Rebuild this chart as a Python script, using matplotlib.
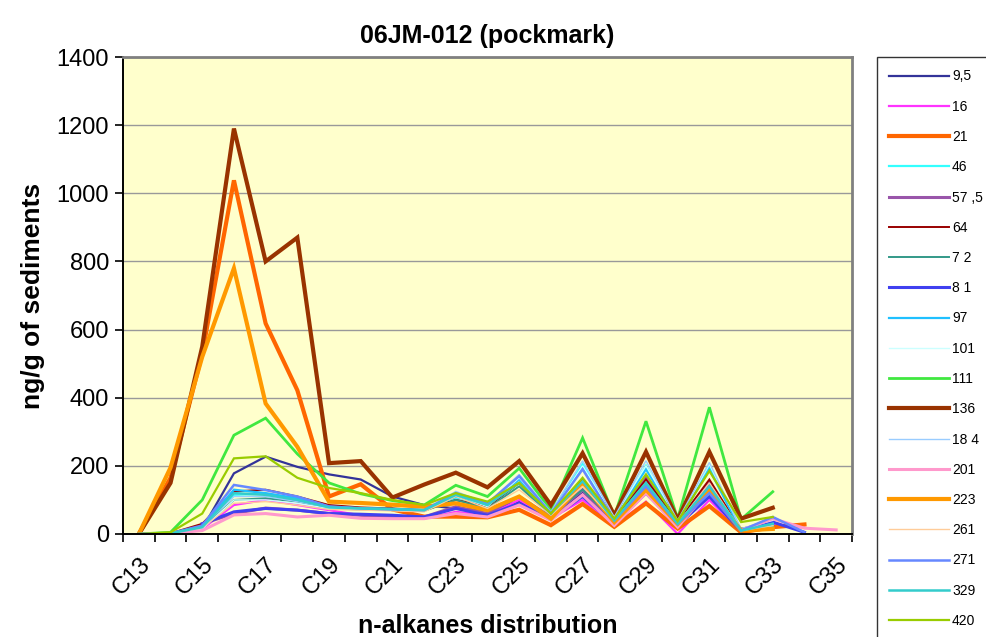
import numpy as np
import matplotlib
matplotlib.use("Agg")
import matplotlib.pyplot as plt
from matplotlib.ticker import FixedLocator, NullFormatter

plt.rcParams["font.family"] = ["Liberation Sans", "DejaVu Sans"]

nan = np.nan
categories = ["C%d" % n for n in range(13, 36)]

# series values, C13 .. C35 (ng/g)
s_9_5 = [nan, nan, 15, 178, 227, 197, 175, 160, 110, 85, 75, 70, 95, 55, 120, 40, 130, 30, 150, 15, 35, nan, nan]
s_16 = [0, 2, 15, 85, 100, 85, 70, 55, 45, 45, 65, 55, 100, 45, 100, 25, 95, 0, 100, 5, 30, 18, nan]
s_21 = [0, 165, 530, 1038, 618, 422, 110, 146, 72, 51, 51, 49, 71, 26, 88, 21, 90, 16, 82, 5, 20, 28, nan]
s_46 = [0, 2, 20, 115, 118, 100, 78, 74, 72, 68, 105, 80, 150, 60, 205, 45, 200, 30, 195, 10, 25, nan, nan]
s_57_5 = [nan, nan, 30, 60, 76, 70, 60, 55, 50, 50, 80, 60, 110, 50, 130, 35, 165, 25, 150, 10, 30, nan, nan]
s_64 = [0, 2, 30, 125, 130, 110, 85, 78, 75, 70, 100, 80, 150, 55, 160, 40, 160, 35, 160, 10, 30, nan, nan]
s_72 = [0, 2, 20, 100, 105, 95, 75, 72, 70, 68, 100, 75, 140, 55, 130, 40, 140, 30, 130, 10, 30, nan, nan]
s_81 = [nan, nan, 30, 65, 75, 70, 60, 58, 55, 50, 75, 55, 90, 45, 110, 30, 120, 25, 110, 8, 35, 5, nan]
s_97 = [0, 2, 22, 130, 120, 105, 80, 76, 74, 70, 110, 85, 160, 65, 195, 45, 190, 35, 190, 10, 30, nan, nan]
s_101 = [0, 2, 15, 100, 100, 90, 75, 72, 70, 66, 115, 80, 165, 60, 200, 50, 200, 40, 205, 15, 40, nan, nan]
s_111 = [0, 5, 100, 290, 340, 235, 150, 118, 98, 85, 143, 110, 193, 70, 282, 52, 331, 45, 372, 43, 124, nan, nan]
s_136 = [0, 150, 550, 1190, 800, 870, 208, 214, 107, 145, 180, 137, 214, 85, 237, 55, 241, 42, 241, 45, 77, nan, nan]
s_184 = [0, 2, 20, 110, 110, 95, 78, 74, 72, 70, 125, 90, 175, 65, 215, 50, 215, 40, 210, 15, 45, nan, nan]
s_201 = [0, 2, 10, 56, 60, 50, 55, 46, 45, 45, 60, 50, 85, 40, 115, 25, 120, 20, 130, 10, 45, 17, 12]
s_223 = [0, 195, 520, 780, 383, 256, 95, 91, 86, 80, 90, 70, 110, 45, 150, 35, 130, 30, 130, 10, 15, nan, nan]
s_261 = [0, 2, 18, 90, 95, 85, 72, 70, 68, 65, 110, 75, 130, 55, 140, 40, 150, 30, 150, 10, 25, nan, nan]
s_271 = [0, 2, 25, 144, 129, 110, 81, 75, 72, 70, 120, 90, 170, 60, 190, 40, 140, 30, 120, 10, 50, 5, nan]
s_329 = [0, 2, 20, 120, 115, 100, 78, 75, 73, 70, 115, 85, 150, 60, 155, 40, 150, 30, 140, 10, 30, nan, nan]
s_420 = [0, 5, 60, 222, 228, 165, 135, 120, 100, 85, 120, 95, 150, 60, 165, 45, 175, 38, 185, 35, 50, nan, nan]

# (label, values, colour, linewidth)
series = [
    ("9,5", s_9_5, "#333399", 1.6),
    ("16", s_16, "#FF33FF", 1.6),
    ("21", s_21, "#FF6600", 3.0),
    ("46", s_46, "#33FFFF", 1.6),
    ("57 ,5", s_57_5, "#9955AA", 2.2),
    ("64", s_64, "#990000", 1.4),
    ("7 2", s_72, "#339988", 1.4),
    ("8 1", s_81, "#4040F0", 2.2),
    ("97", s_97, "#1FC0FF", 1.6),
    ("101", s_101, "#CCFFFF", 1.0),
    ("111", s_111, "#40E840", 2.0),
    ("136", s_136, "#993300", 3.0),
    ("18 4", s_184, "#99CCFF", 1.0),
    ("201", s_201, "#FF99CC", 2.2),
    ("223", s_223, "#FF9900", 3.0),
    ("261", s_261, "#FFCC99", 1.0),
    ("271", s_271, "#6688FF", 1.8),
    ("329", s_329, "#33CCCC", 1.8),
    ("420", s_420, "#99CC00", 1.6),
]

fig = plt.figure(figsize=(9.87, 6.37), dpi=100)
ax = fig.add_axes([123 / 987, 1 - 534 / 637, (852 - 123) / 987, (534 - 57) / 637])
ax.set_facecolor("#FFFFCC")

x = np.arange(len(categories))
handles = []
for label, vals, color, lw in series:
    h, = ax.plot(x, vals, color=color, linewidth=lw, label=label,
                 solid_joinstyle="miter")
    handles.append(h)

ax.set_xlim(-0.5, len(categories) - 0.5)
ax.set_ylim(0, 1400)
ax.set_yticks(range(0, 1401, 200))
ax.grid(axis="y", color="#999999", linewidth=1.0)
ax.set_axisbelow(True)

# category boundaries get tick marks, every other category gets a label
ax.xaxis.set_major_locator(FixedLocator(np.arange(-0.5, len(categories), 1.0)))
ax.xaxis.set_major_formatter(NullFormatter())
ax.xaxis.set_minor_locator(FixedLocator(x[::2]))
ax.set_xticklabels(categories[::2], minor=True, rotation=45, ha="right",
                   rotation_mode="anchor", fontsize=17)
ax.tick_params(axis="x", which="major", direction="out", length=6, width=1.2)
ax.tick_params(axis="x", which="minor", length=0, pad=14)
ax.tick_params(axis="y", direction="out", length=6, width=1.2, labelsize=17, pad=4)

for side in ("left", "bottom"):
    ax.spines[side].set_color("black")
    ax.spines[side].set_linewidth(1.4)
for side in ("top", "right"):
    ax.spines[side].set_color("#808080")
    ax.spines[side].set_linewidth(2.0)

ax.set_title("06JM-012 (pockmark)", fontsize=18, fontweight="bold", pad=10)
ax.set_xlabel("n-alkanes distribution", fontsize=18, fontweight="bold")
ax.xaxis.set_label_coords(0.5, -0.167)
ax.set_ylabel("ng/g of sediments", fontsize=19, fontweight="bold", labelpad=8)

leg = fig.legend(handles=handles, loc="upper left",
                 bbox_to_anchor=(877 / 987, 1 - 57 / 637), fontsize=10,
                 handlelength=4.3, handletextpad=0.2, labelspacing=1.17,
                 borderpad=0.9, borderaxespad=0, frameon=True, fancybox=False)
leg.get_frame().set_edgecolor("black")
leg.get_frame().set_linewidth(1.0)

fig.savefig("out.png", dpi=100)
